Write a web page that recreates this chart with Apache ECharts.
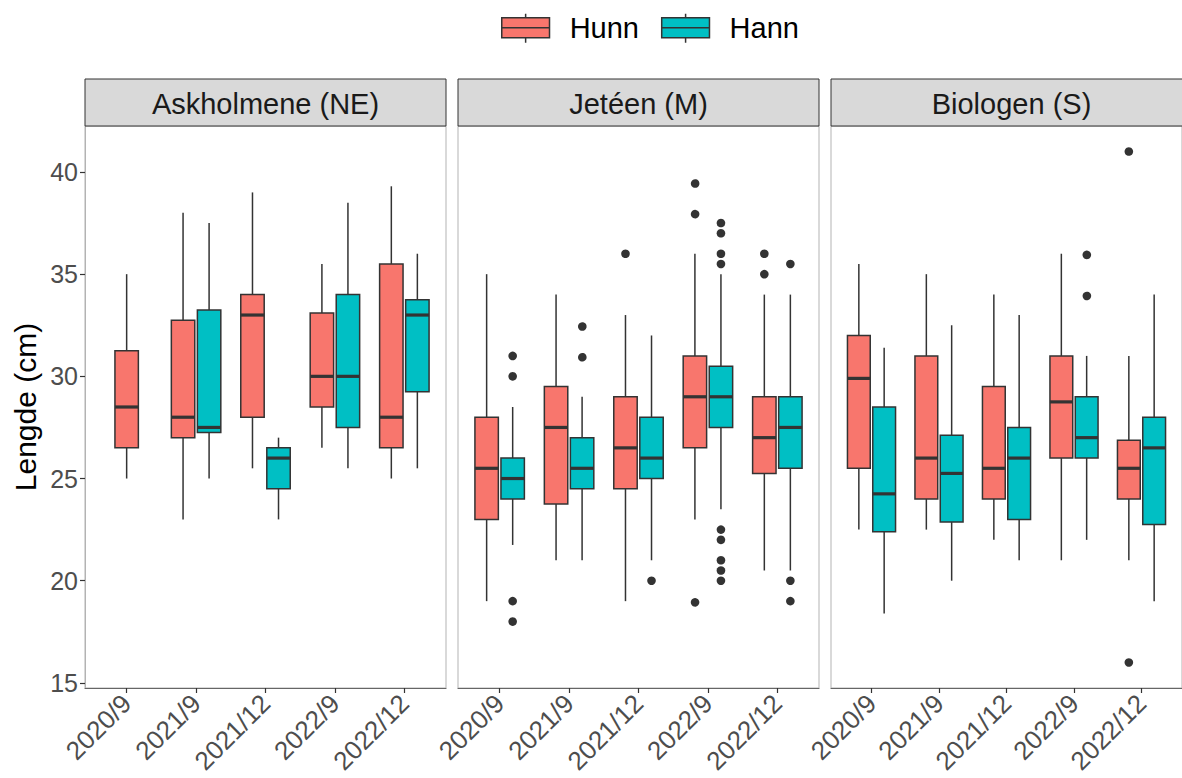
<!DOCTYPE html>
<html>
<head>
<meta charset="utf-8">
<script src="https://cdn.jsdelivr.net/npm/echarts@6/dist/echarts.min.js"></script>
<style>
  html, body { margin: 0; padding: 0; background: #ffffff; }
  #chart { width: 1182px; height: 778px; }
</style>
</head>
<body>
<div id="chart"></div>
<script>
// ---------------- data ----------------
const categories = ['2020/9', '2021/9', '2021/12', '2022/9', '2022/12'];
const sites = ['Askholmene (NE)', 'Jetéen (M)', 'Biologen (S)'];
const groups = ['Hunn', 'Hann'];
const yTicks = [15, 20, 25, 30, 35, 40];

// box stats per category: [lower whisker, Q1, median, Q3, upper whisker]
const askHunn = [[25, 26.5, 28.5, 31.25, 35], [23, 27, 28, 32.75, 38], [25.5, 28, 33, 34, 39], [26.5, 28.5, 30, 33.1, 35.5], [25, 26.5, 28, 35.5, 39.3]];
const askHann = [null, [25, 27.25, 27.5, 33.25, 37.5], [23, 24.5, 26, 26.5, 27], [25.5, 27.5, 30, 34, 38.5], [25.5, 29.25, 33, 33.75, 36]];
const jetHunn = [[19, 23, 25.5, 28, 35], [21, 23.75, 27.5, 29.5, 34], [19, 24.5, 26.5, 29, 33], [23, 26.5, 29, 31, 36], [20.5, 25.25, 27, 29, 34]];
const jetHann = [[21.75, 24, 25, 26, 28.5], [21, 24.5, 25.5, 27, 29], [21, 25, 26, 28, 32], [23.5, 27.5, 29, 30.5, 35], [20.5, 25.5, 27.5, 29, 34]];
const bioHunn = [[22.5, 25.5, 29.9, 32, 35.5], [22.5, 24, 26, 31, 35], [22, 24, 25.5, 29.5, 34], [21, 26, 28.75, 31, 36], [21, 24, 25.5, 26.87, 31]];
const bioHann = [[18.4, 22.4, 24.25, 28.5, 31.4], [20, 22.87, 25.25, 27.12, 32.5], [21, 23, 26, 27.5, 33], [22, 26, 27, 29, 31], [19, 22.75, 26.5, 28, 34]];

// outliers per category
const askHunnOut = [[], [], [], [], []];
const askHannOut = [[], [], [], [], []];
const jetHunnOut = [[], [], [36], [39.5, 38, 19], [36, 35]];
const jetHannOut = [[31, 30, 19, 18], [32.5, 31], [20], [37.5, 37, 36, 35.5, 22.5, 22, 21, 20.5, 20], [35.5, 20, 19]];
const bioHunnOut = [[], [], [], [], [41, 16]];
const bioHannOut = [[], [], [], [36, 34], []];

const boxStats = [[askHunn, askHann], [jetHunn, jetHann], [bioHunn, bioHann]];
const outStats = [[askHunnOut, askHannOut], [jetHunnOut, jetHannOut], [bioHunnOut, bioHannOut]];

// ---------------- style / layout ----------------
const colors = ['#F8766D', '#00BFC4'];
const edge = '#333333';
const panelLeft = [85, 458, 831];
const panelW = 361, panelTop = 126, panelH = 562;
const stripTop = 79, stripH = 47;
const boxW = 0.3375, dodge = 0.1875;
const font = 'Liberation Sans, Arial, sans-serif';

function slotOffset(slot, n) { return n === 1 ? 0 : (slot === 0 ? -dodge : dodge); }

function renderBox(params, api) {
  const x = api.value(0);
  const lo = api.value(1), q1 = api.value(2), med = api.value(3), q3 = api.value(4), hi = api.value(5);
  const slot = api.value(6), n = api.value(7);
  const unit = api.size([1, 0])[0];
  const cx = api.coord([x + slotOffset(slot, n), lo])[0];
  const w = boxW * unit;
  const yLo = api.coord([x, lo])[1], yQ1 = api.coord([x, q1])[1], yMed = api.coord([x, med])[1];
  const yQ3 = api.coord([x, q3])[1], yHi = api.coord([x, hi])[1];
  const color = api.visual('color');
  const ls = { stroke: edge, lineWidth: 1.5 };
  return {
    type: 'group',
    children: [
      { type: 'line', shape: { x1: cx, y1: yQ1, x2: cx, y2: yLo }, style: ls },
      { type: 'line', shape: { x1: cx, y1: yQ3, x2: cx, y2: yHi }, style: ls },
      { type: 'rect', shape: { x: cx - w / 2, y: yQ3, width: w, height: yQ1 - yQ3 }, style: { fill: color, stroke: edge, lineWidth: 1.5 } },
      { type: 'line', shape: { x1: cx - w / 2, y1: yMed, x2: cx + w / 2, y2: yMed }, style: { stroke: edge, lineWidth: 3.2 } }
    ]
  };
}

function renderOut(params, api) {
  const x = api.value(0), y = api.value(1), slot = api.value(2), n = api.value(3);
  const p = api.coord([x, y]);
  const unit = api.size([1, 0])[0];
  return { type: 'circle', shape: { cx: p[0] + slotOffset(slot, n) * unit, cy: p[1], r: 4.3 }, style: { fill: edge } };
}

const grids = [], xAxes = [], yAxes = [], series = [], graphics = [];
sites.forEach((site, s) => {
  grids.push({ left: panelLeft[s], top: panelTop, width: panelW, height: panelH, show: true, borderColor: '#b3b3b3', borderWidth: 1, backgroundColor: '#fff' });
  xAxes.push({
    gridIndex: s, type: 'value', min: 0.4, max: 5.6,
    splitLine: { show: false },
    axisLine: { show: true, onZero: false, lineStyle: { color: '#666', width: 1.2 } },
    axisTick: { show: true, length: 5, customValues: categories.map((c, i) => i + 1), lineStyle: { color: '#333', width: 1.2 } },
    axisLabel: {
      customValues: categories.map((c, i) => i + 1),
      formatter: v => categories[Math.round(v) - 1],
      rotate: 45, fontSize: 26, color: '#4D4D4D', margin: 11, fontFamily: font
    }
  });
  yAxes.push({
    gridIndex: s, type: 'value', min: 14.75, max: 42.25,
    splitLine: { show: false },
    axisLine: { show: s === 0, onZero: false, lineStyle: { color: '#b3b3b3' } },
    axisTick: { show: s === 0, length: 5, customValues: yTicks, lineStyle: { color: '#333', width: 1.2 } },
    axisLabel: { show: s === 0, customValues: yTicks, fontSize: 25, color: '#4D4D4D', margin: 7, fontFamily: font },
    name: s === 0 ? 'Lengde (cm)' : '',
    nameLocation: 'middle', nameGap: 45,
    nameTextStyle: { fontSize: 30, color: '#000', fontFamily: font }
  });
  // strip
  graphics.push({ type: 'rect', shape: { x: panelLeft[s], y: stripTop, width: panelW, height: stripH }, style: { fill: '#D9D9D9', stroke: '#333', lineWidth: 1 }, z: 10 });
  graphics.push({ type: 'text', x: panelLeft[s] + panelW / 2, y: stripTop + stripH / 2 + 1, style: { text: site, fontSize: 29, fill: '#1A1A1A', align: 'center', verticalAlign: 'middle', fontFamily: font }, z: 11 });

  const nPer = categories.map((c, i) => boxStats[s].filter(g => g[i]).length);
  groups.forEach((g, gi) => {
    const boxes = [];
    boxStats[s][gi].forEach((st, i) => { if (st) boxes.push([i + 1, st[0], st[1], st[2], st[3], st[4], gi, nPer[i]]); });
    series.push({
      name: g, type: 'custom', xAxisIndex: s, yAxisIndex: s,
      itemStyle: { color: colors[gi] },
      encode: { x: 0, y: [1, 2, 3, 4, 5] },
      renderItem: renderBox, data: boxes, clip: false
    });
    const outs = [];
    outStats[s][gi].forEach((arr, i) => arr.forEach(v => outs.push([i + 1, v, gi, nPer[i]])));
    series.push({
      name: g, type: 'custom', xAxisIndex: s, yAxisIndex: s,
      itemStyle: { color: colors[gi] },
      encode: { x: 0, y: 1 },
      renderItem: renderOut, data: outs, clip: false
    });
  });
});

const keyIcon = 'path://M0,12 L140,12 L140,70 L0,70 Z M0,41 L140,41 M70,0 L70,12 M70,70 L70,85';

const option = {
  backgroundColor: '#ffffff',
  animation: false,
  textStyle: { fontFamily: font },
  legend: {
    top: 8, left: 496, itemWidth: 48, itemHeight: 29, itemGap: 22,
    textStyle: { fontSize: 29, color: '#000', padding: [0, 0, 0, 15], fontFamily: font },
    data: groups.map((g, gi) => ({ name: g, icon: keyIcon, itemStyle: { color: colors[gi], borderColor: edge, borderWidth: 1.5 } }))
  },
  grid: grids, xAxis: xAxes, yAxis: yAxes, series: series, graphic: graphics
};

const chart = echarts.init(document.getElementById('chart'), null, { renderer: 'svg' });
chart.setOption(option);
</script>
</body>
</html>
